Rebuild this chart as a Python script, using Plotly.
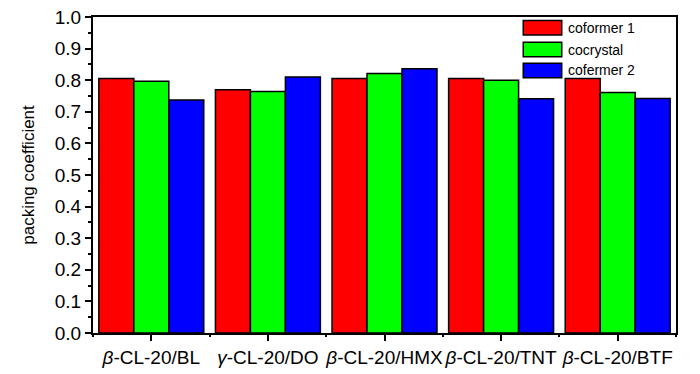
import plotly.graph_objects as go

categories = ["<i>β</i>-CL-20/BL", "<i>γ</i>-CL-20/DO", "<i>β</i>-CL-20/HMX",
              "<i>β</i>-CL-20/TNT", "<i>β</i>-CL-20/BTF"]
coformer1 = [0.805, 0.770, 0.805, 0.805, 0.805]
cocrystal = [0.797, 0.764, 0.821, 0.800, 0.761]
coformer2 = [0.737, 0.810, 0.836, 0.741, 0.742]
series_names = ["coformer 1", "cocrystal", "cofermer 2"]
series_colors = ["#ff0000", "#00ff00", "#0000ff"]
y_ticks = [0.0, 0.1, 0.2, 0.3, 0.4, 0.5, 0.6, 0.7, 0.8, 0.9, 1.0]

font = "Liberation Sans, Arial, sans-serif"
fig = go.Figure()
for name, vals, col in zip(series_names, [coformer1, cocrystal, coformer2], series_colors):
    fig.add_trace(go.Bar(x=categories, y=vals, name=name, showlegend=False,
                         marker=dict(color=col, line=dict(color="black", width=1.5))))

# invisible helper trace for boundary (minor) ticks on the x axis
fig.add_trace(go.Scatter(x=[None], y=[None], xaxis="x2", showlegend=False, hoverinfo="skip"))

# legend drawn as boxes + text (wide swatches like the original)
row_y = [0.966, 0.897, 0.831]
for name, col, yc in zip(series_names, series_colors, row_y):
    fig.add_shape(type="rect", xref="paper", yref="paper",
                  x0=0.738, x1=0.804, y0=yc - 0.023, y1=yc + 0.023,
                  fillcolor=col, line=dict(color="black", width=1.5))
    fig.add_annotation(xref="paper", yref="paper", x=0.812, y=yc, text=name,
                       showarrow=False, xanchor="left", yanchor="middle",
                       font=dict(size=14, color="black", family=font))

# page body has an 8px margin, so the figure is made 8px smaller
fig.update_layout(
    width=692, height=366,
    margin=dict(l=85, r=24, t=9, b=41),
    paper_bgcolor="white", plot_bgcolor="white",
    barmode="group", bargap=0.1, bargroupgap=0,
    font=dict(family=font, color="black"),
    showlegend=False,
    xaxis=dict(
        showline=True, linecolor="black", linewidth=2, mirror=True,
        ticks="outside", ticklen=6, tickwidth=1.5, tickcolor="black",
        tickfont=dict(size=19), tickangle=0, range=[-0.5, 4.5], showgrid=False,
        automargin=False, ticklabeloverflow="allow",
    ),
    xaxis2=dict(overlaying="x", side="bottom", range=[-0.5, 4.5],
                tickvals=[-0.5, 0.5, 1.5, 2.5, 3.5, 4.5], showticklabels=False,
                ticks="outside", ticklen=3, tickwidth=1.5, tickcolor="black",
                showgrid=False, zeroline=False, showline=False, automargin=False),
    yaxis=dict(
        range=[0, 1.0], tickvals=y_ticks, ticktext=[f"{v:.1f}" for v in y_ticks],
        showline=True, linecolor="black", linewidth=2, mirror=True,
        ticks="outside", ticklen=6, tickwidth=1.5, tickcolor="black",
        tickfont=dict(size=19), showgrid=False, zeroline=False, automargin=False,
        ticklabeloverflow="allow",
        minor=dict(ticks="outside", ticklen=3, tickwidth=1.5, tickcolor="black", dtick=0.05),
        title=dict(text="packing coefficient", font=dict(size=17), standoff=16),
    ),
)
fig.write_html("out.html")
